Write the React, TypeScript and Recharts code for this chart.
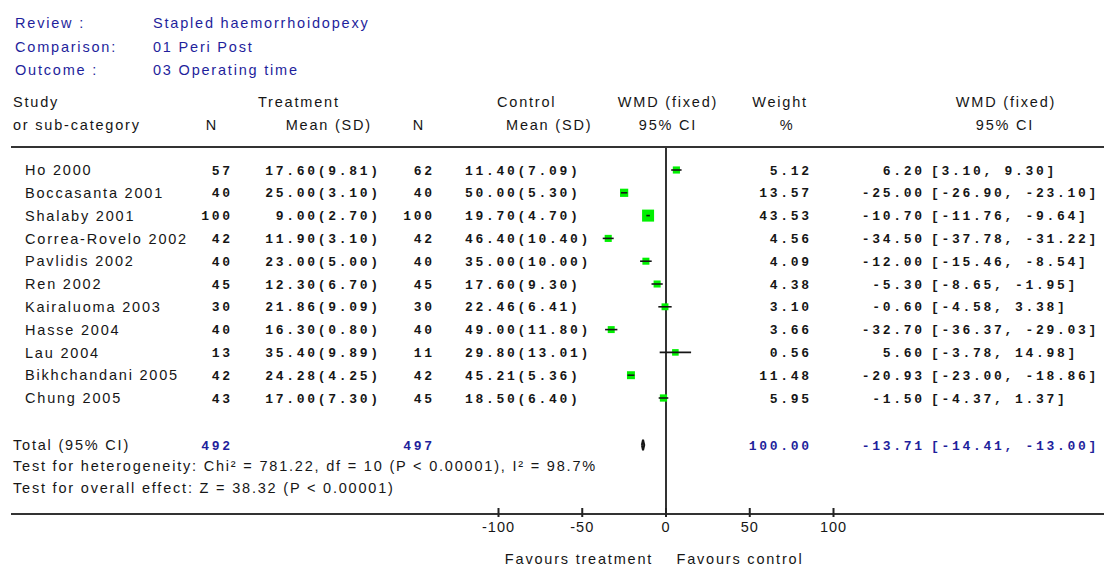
import React from 'react';
import { ScatterChart, Scatter, XAxis, YAxis, ReferenceLine } from 'recharts';

// ---- Data -------------------------------------------------------------
const studies = [
  'Ho 2000', 'Boccasanta 2001', 'Shalaby 2001', 'Correa-Rovelo 2002', 'Pavlidis 2002',
  'Ren 2002', 'Kairaluoma 2003', 'Hasse 2004', 'Lau 2004', 'Bikhchandani 2005', 'Chung 2005',
];
const treatN = [57, 40, 100, 42, 40, 45, 30, 40, 13, 42, 43];
const treatMean = [17.6, 25.0, 9.0, 11.9, 23.0, 12.3, 21.86, 16.3, 35.4, 24.28, 17.0];
const treatSD = [9.81, 3.1, 2.7, 3.1, 5.0, 6.7, 9.09, 0.8, 9.89, 4.25, 7.3];
const ctrlN = [62, 40, 100, 42, 40, 45, 30, 40, 11, 42, 45];
const ctrlMean = [11.4, 50.0, 19.7, 46.4, 35.0, 17.6, 22.46, 49.0, 29.8, 45.21, 18.5];
const ctrlSD = [7.09, 5.3, 4.7, 10.4, 10.0, 9.3, 6.41, 11.8, 13.01, 5.36, 6.4];
const weights = [5.12, 13.57, 43.53, 4.56, 4.09, 4.38, 3.1, 3.66, 0.56, 11.48, 5.95];
const wmd = [6.2, -25.0, -10.7, -34.5, -12.0, -5.3, -0.6, -32.7, 5.6, -20.93, -1.5];
const ciLow = [3.1, -26.9, -11.76, -37.78, -15.46, -8.65, -4.58, -36.37, -3.78, -23.0, -4.37];
const ciHigh = [9.3, -23.1, -9.64, -31.22, -8.54, -1.95, 3.38, -29.03, 14.98, -18.86, 1.37];

const totalTreatN = 492;
const totalCtrlN = 497;
const totalWeight = 100.0;
const totalWmd = -13.71;
const totalLow = -14.41;
const totalHigh = -13.0;

const axisTicks = [-100, -50, 0, 50, 100];

// ---- Layout -------------------------------------------------------------
const W = 1104;
const H = 567;
const PX_PER_UNIT = 1.675;
const ZERO_PX = 666;
const PLOT_LEFT = 11;
const PLOT_TOP = 147;
const PLOT_BOTTOM = 514;
const ROW0_PX = 170;
const ROW_STEP = 22.8;
const X_MIN = -(ZERO_PX - PLOT_LEFT) / PX_PER_UNIT;
const X_MAX = (W - ZERO_PX) / PX_PER_UNIT;
const Y_MIN = -(ROW0_PX - PLOT_TOP) / ROW_STEP;
const Y_MAX = (PLOT_BOTTOM - ROW0_PX) / ROW_STEP;
const TOTAL_ROW = 12.06;
const DIAMOND_HALF = 0.23;

const BLUE = '#1f1f9c';
const INK = '#161616';
const GREEN = '#00f000';

const sans: React.SVGProps<SVGTextElement> = {
  fontFamily: "'Liberation Sans', Arial, sans-serif",
  fontSize: 14.5,
  letterSpacing: 1.8,
  fill: INK,
};
const mono: React.SVGProps<SVGTextElement> = {
  fontFamily: "'Liberation Mono', 'DejaVu Sans Mono', monospace",
  fontSize: 13,
  fontWeight: 700,
  letterSpacing: 2.7,
  fill: INK,
};
const LS = 2.7; // trailing letter spacing when right-anchored

// column anchors
const COL_STUDY = 25;
const COL_TN = 230;
const COL_TMEAN = 378;
const COL_CN = 432;
const COL_CMEAN = 465;
const COL_WEIGHT = 809;
const COL_EST = 922;
const COL_CI = 931;

const fmt = (v: number) => v.toFixed(2);

const maxWeight = Math.max(...weights);

const studyPoints = studies.map((name, i) => ({
  x: wmd[i],
  y: i,
  name,
  tn: treatN[i],
  tm: treatMean[i],
  tsd: treatSD[i],
  cn: ctrlN[i],
  cm: ctrlMean[i],
  csd: ctrlSD[i],
  w: weights[i],
  lo: ciLow[i],
  hi: ciHigh[i],
}));

const ciSegments = studyPoints.map((p) => [
  { x: p.lo, y: p.y },
  { x: p.hi, y: p.y },
]);

const tickPoints = axisTicks.map((t) => ({ x: t, y: Y_MAX }));

const totalPoint = [{ x: totalWmd, y: TOTAL_ROW }];
const diamond = [
  { x: totalLow, y: TOTAL_ROW },
  { x: totalWmd, y: TOTAL_ROW - DIAMOND_HALF },
  { x: totalHigh, y: TOTAL_ROW },
  { x: totalWmd, y: TOTAL_ROW + DIAMOND_HALF },
  { x: totalLow, y: TOTAL_ROW },
];

const Empty = () => <g />;

// small tick mark crossing the axis line
const TickMark = (props: any) => {
  const { cx, cy } = props;
  return <rect x={cx - 1} y={cy - 6} width={2} height={9} fill="#222" />;
};

const StudyRow = (props: any) => {
  const { cx, cy, payload } = props;
  const side = 6.5 + 5.5 * (payload.w / maxWeight);
  return (
    <g>
      <rect x={cx - side / 2} y={cy - side / 2} width={side} height={side} fill={GREEN} />
      <text {...sans} x={COL_STUDY} y={cy} dy="0.36em">{payload.name}</text>
      <text {...mono} x={COL_TN + LS} y={cy} dy="0.36em" textAnchor="end">{payload.tn}</text>
      <text {...mono} x={COL_TMEAN + LS} y={cy} dy="0.36em" textAnchor="end">
        {`${fmt(payload.tm)}(${fmt(payload.tsd)})`}
      </text>
      <text {...mono} x={COL_CN + LS} y={cy} dy="0.36em" textAnchor="end">{payload.cn}</text>
      <text {...mono} x={COL_CMEAN} y={cy} dy="0.36em">{`${fmt(payload.cm)}(${fmt(payload.csd)})`}</text>
      <text {...mono} x={COL_WEIGHT + LS} y={cy} dy="0.36em" textAnchor="end">{fmt(payload.w)}</text>
      <text {...mono} x={COL_EST + LS} y={cy} dy="0.36em" textAnchor="end">{fmt(payload.x)}</text>
      <text {...mono} x={COL_CI} y={cy} dy="0.36em">{`[${fmt(payload.lo)}, ${fmt(payload.hi)}]`}</text>
    </g>
  );
};

const TotalRow = (props: any) => {
  const { cy } = props;
  return (
    <g>
      <text {...sans} x={13} y={cy} dy="0.36em">Total (95% CI)</text>
      <text {...mono} fill={BLUE} x={COL_TN + LS} y={cy} dy="0.36em" textAnchor="end">{totalTreatN}</text>
      <text {...mono} fill={BLUE} x={COL_CN + LS} y={cy} dy="0.36em" textAnchor="end">{totalCtrlN}</text>
      <text {...mono} fill={BLUE} x={COL_WEIGHT + LS} y={cy} dy="0.36em" textAnchor="end">{fmt(totalWeight)}</text>
      <text {...mono} fill={BLUE} x={COL_EST + LS} y={cy} dy="0.36em" textAnchor="end">{fmt(totalWmd)}</text>
      <text {...mono} fill={BLUE} x={COL_CI} y={cy} dy="0.36em">{`[${fmt(totalLow)}, ${fmt(totalHigh)}]`}</text>
    </g>
  );
};

const T = (p: any) => <text {...sans} dy="0.36em" {...p} />;

export default function App() {
  return (
    <div style={{ position: 'absolute', left: 0, top: 0, width: W, height: H, background: '#fff', overflow: 'hidden' }}>
      <ScatterChart width={W} height={H} margin={{ top: PLOT_TOP, right: 0, bottom: H - PLOT_BOTTOM - 30, left: PLOT_LEFT }}>
        <XAxis
          type="number"
          dataKey="x"
          domain={[X_MIN, X_MAX]}
          ticks={axisTicks}
          interval={0}
          height={30}
          tickSize={4}
          tickMargin={4}
          axisLine={{ stroke: '#333', strokeWidth: 2 }}
          tickLine={false}
          tick={{ fontFamily: "'Liberation Sans', Arial, sans-serif", fontSize: 14.5, fill: INK, letterSpacing: 1 }}
        />
        <YAxis type="number" dataKey="y" domain={[Y_MIN, Y_MAX]} reversed hide />
        <ReferenceLine y={Y_MIN} stroke="#333" strokeWidth={2} ifOverflow="visible" />
        <ReferenceLine x={0} stroke="#333" strokeWidth={2} />
        <Scatter data={studyPoints} shape={StudyRow} isAnimationActive={false} />
        {ciSegments.map((seg, i) => (
          <Scatter
            key={i}
            data={seg}
            line={{ stroke: INK, strokeWidth: 1.6 }}
            shape={Empty}
            fill="none"
            isAnimationActive={false}
          />
        ))}
        <Scatter data={totalPoint} shape={TotalRow} isAnimationActive={false} />
        <Scatter data={diamond} line={{ stroke: INK, strokeWidth: 2 }} shape={Empty} fill="none" isAnimationActive={false} />
        <Scatter data={tickPoints} shape={TickMark} isAnimationActive={false} />
      </ScatterChart>
      <svg width={W} height={H} style={{ position: 'absolute', left: 0, top: 0, pointerEvents: 'none' }}>
        <T x={15} y={23} fill={BLUE}>Review :</T>
        <T x={153} y={23} fill={BLUE}>Stapled haemorrhoidopexy</T>
        <T x={15} y={47} fill={BLUE}>Comparison:</T>
        <T x={153} y={47} fill={BLUE}>01 Peri Post</T>
        <T x={15} y={70} fill={BLUE}>Outcome :</T>
        <T x={153} y={70} fill={BLUE}>03 Operating time</T>

        <T x={13} y={102}>Study</T>
        <T x={13} y={125}>or sub-category</T>
        <T x={258} y={102}>Treatment</T>
        <T x={212} y={125} textAnchor="middle">N</T>
        <T x={372} y={125} textAnchor="end">Mean (SD)</T>
        <T x={419} y={125} textAnchor="middle">N</T>
        <T x={497} y={102}>Control</T>
        <T x={506} y={125}>Mean (SD)</T>
        <T x={668} y={102} textAnchor="middle">WMD (fixed)</T>
        <T x={668} y={125} textAnchor="middle">95% CI</T>
        <T x={780} y={102} textAnchor="middle">Weight</T>
        <T x={787} y={125} textAnchor="middle">%</T>
        <T x={1006} y={102} textAnchor="middle">WMD (fixed)</T>
        <T x={1005} y={125} textAnchor="middle">95% CI</T>

        <T x={13} y={466}>Test for heterogeneity: Chi² = 781.22, df = 10 (P &lt; 0.00001), I² = 98.7%</T>
        <T x={13} y={488}>Test for overall effect: Z = 38.32 (P &lt; 0.00001)</T>

        <T x={579} y={559} textAnchor="middle">Favours treatment</T>
        <T x={740} y={559} textAnchor="middle">Favours control</T>
      </svg>
    </div>
  );
}
